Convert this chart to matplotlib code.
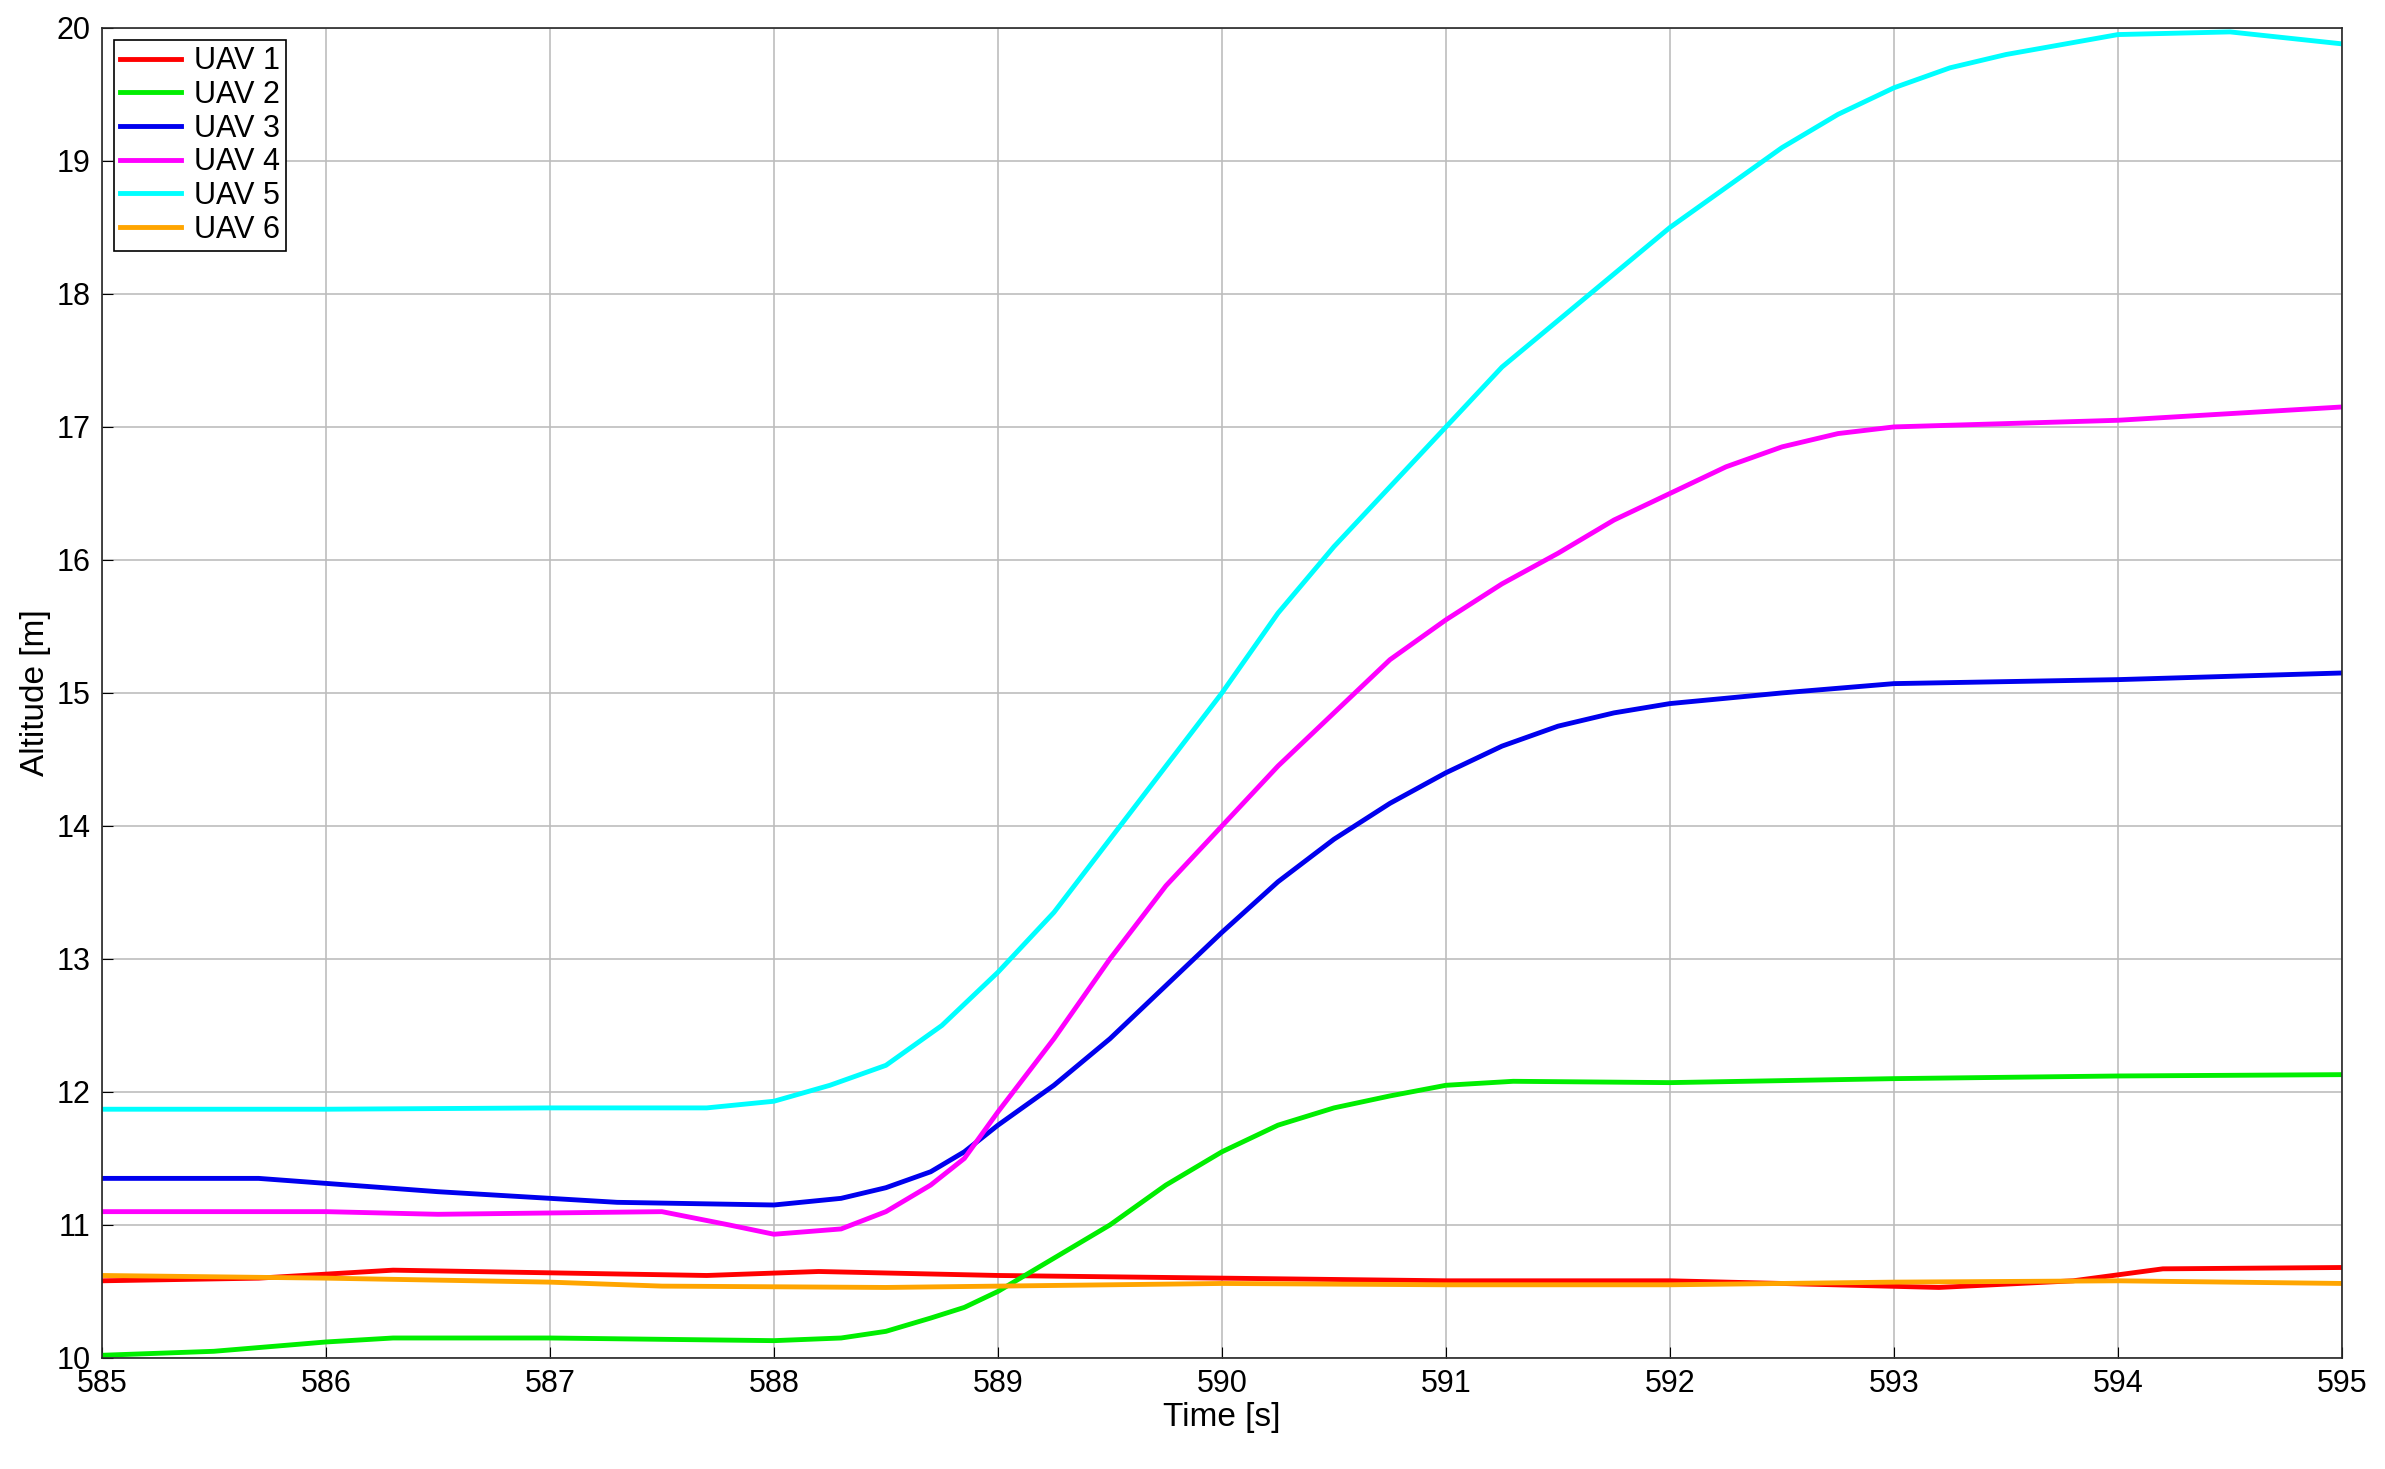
import matplotlib
matplotlib.use("Agg")
import matplotlib.pyplot as plt

plt.rcParams['font.family'] = ['Liberation Sans', 'DejaVu Sans']

t1 = [585, 585.7, 586.3, 587, 587.7, 588.2, 589, 590, 591, 592, 592.5, 593.2, 593.8, 594.2, 595]
uav1 = [10.58, 10.6, 10.66, 10.64, 10.62, 10.65, 10.62, 10.6, 10.58, 10.58, 10.56, 10.53, 10.58, 10.67, 10.68]
t2 = [585, 585.5, 586, 586.3, 587, 588, 588.3, 588.5, 588.7, 588.85, 589, 589.25, 589.5, 589.75, 590, 590.25,
      590.5, 590.75, 591, 591.3, 592, 593, 594, 595]
uav2 = [10.02, 10.05, 10.12, 10.15, 10.15, 10.13, 10.15, 10.2, 10.3, 10.38, 10.5, 10.75, 11.0, 11.3, 11.55, 11.75,
        11.88, 11.97, 12.05, 12.08, 12.07, 12.1, 12.12, 12.13]
t3 = [585, 585.7, 586.5, 587.3, 588, 588.3, 588.5, 588.7, 588.85, 589, 589.25, 589.5, 589.75, 590, 590.25,
      590.5, 590.75, 591, 591.25, 591.5, 591.75, 592, 592.5, 593, 594, 595]
uav3 = [11.35, 11.35, 11.25, 11.17, 11.15, 11.2, 11.28, 11.4, 11.55, 11.75, 12.05, 12.4, 12.8, 13.2, 13.58,
        13.9, 14.17, 14.4, 14.6, 14.75, 14.85, 14.92, 15.0, 15.07, 15.1, 15.15]
t4 = [585, 586, 586.5, 587.5, 587.8, 588, 588.3, 588.5, 588.7, 588.85, 589, 589.25, 589.5, 589.75, 590, 590.25,
      590.5, 590.75, 591, 591.25, 591.5, 591.75, 592, 592.25, 592.5, 592.75, 593, 594, 594.5, 595]
uav4 = [11.1, 11.1, 11.08, 11.1, 11.0, 10.93, 10.97, 11.1, 11.3, 11.5, 11.85, 12.4, 13.0, 13.55, 14.0, 14.45,
        14.85, 15.25, 15.55, 15.82, 16.05, 16.3, 16.5, 16.7, 16.85, 16.95, 17.0, 17.05, 17.1, 17.15]
t5 = [585, 586, 587, 587.7, 588, 588.25, 588.5, 588.75, 589, 589.25, 589.5, 589.75, 590, 590.25, 590.5, 590.75,
      591, 591.25, 591.5, 591.75, 592, 592.25, 592.5, 592.75, 593, 593.25, 593.5, 594, 594.5, 595]
uav5 = [11.87, 11.87, 11.88, 11.88, 11.93, 12.05, 12.2, 12.5, 12.9, 13.35, 13.9, 14.45, 15.0, 15.6, 16.1, 16.55,
        17.0, 17.45, 17.8, 18.15, 18.5, 18.8, 19.1, 19.35, 19.55, 19.7, 19.8, 19.95, 19.97, 19.88]
t6 = [585, 586, 587, 587.5, 588.5, 590, 591, 592, 593, 594, 595]
uav6 = [10.62, 10.6, 10.57, 10.54, 10.53, 10.56, 10.55, 10.55, 10.57, 10.58, 10.56]

series = [("UAV 1", t1, uav1, "#ff0000"), ("UAV 2", t2, uav2, "#00ee00"),
          ("UAV 3", t3, uav3, "#0000ee"), ("UAV 4", t4, uav4, "#ff00ff"),
          ("UAV 5", t5, uav5, "#00ffff"), ("UAV 6", t6, uav6, "#ffa500")]

fig = plt.figure(figsize=(23.85, 14.69), dpi=100)
ax = fig.add_axes([0.0427, 0.0756, 0.9393, 0.9054])
for name, t, y, c in series:
    ax.plot(t, y, color=c, lw=3.5, label=name, solid_joinstyle='round')
ax.set_xlim(585, 595)
ax.set_ylim(10, 20)
ax.set_xticks(range(585, 596))
ax.set_yticks(range(10, 21))
ax.grid(True, color='#bdbdbd', lw=1.2)
ax.tick_params(labelsize=22, direction='in', length=8, pad=8)
for s in ax.spines.values():
    s.set_color('#262626'); s.set_linewidth(1.2)
ax.set_xlabel("Time [s]", fontsize=24, labelpad=2)
ax.set_ylabel("Altitude [m]", fontsize=24, labelpad=4)
leg = ax.legend(loc='upper left', fontsize=22, fancybox=False, framealpha=1,
                edgecolor='black', borderpad=0.2, labelspacing=0.12,
                handlelength=2.0, handletextpad=0.4, borderaxespad=0.4)
leg.get_frame().set_linewidth(1.2)
fig.savefig("out.png", dpi=100)
